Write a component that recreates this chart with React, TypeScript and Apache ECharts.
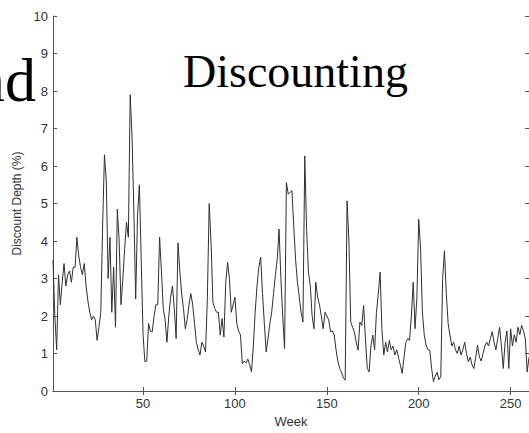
import React, { useEffect, useRef } from "react";
import * as echarts from "echarts";

// Discount depth (%) per week, weeks 1..260
const discountDepth: number[] = [
  3.5, 2.0, 1.1, 3.1, 2.3, 2.9, 3.4, 2.8, 3.1, 3.2,
  2.9, 3.3, 3.3, 4.1, 3.6, 3.3, 3.1, 3.4, 2.8, 2.4,
  2.1, 1.9, 2.0, 1.9, 1.35, 1.7, 2.1, 4.4, 6.3, 5.6,
  3.0, 4.1, 2.1, 3.3, 1.7, 4.85, 4.0, 2.3, 3.0, 3.8,
  4.5, 4.1, 7.9, 6.8, 4.8, 2.45, 4.7, 5.5, 3.5, 1.5,
  0.78, 0.8, 1.8, 1.6, 1.58, 2.0, 2.3, 2.3, 4.1, 3.2,
  2.2, 1.9, 1.3, 2.0, 2.5, 2.8, 2.2, 1.4, 3.95, 3.2,
  2.6, 2.2, 1.66, 1.9, 2.3, 2.6, 2.3, 1.8, 1.3, 1.1,
  0.96, 1.3, 1.2, 1.04, 2.5, 5.0, 3.96, 2.37, 2.2, 2.1,
  2.1, 1.49, 1.93, 1.44, 2.9, 3.43, 3.0, 2.1, 2.3, 2.5,
  1.8, 1.6, 1.5, 0.73, 0.8, 0.75, 0.85, 0.7, 0.51, 1.2,
  2.1, 2.8, 3.3, 3.57, 2.6, 1.8, 1.04, 1.4, 1.8, 2.1,
  2.6, 3.1, 3.5, 4.32, 3.0, 2.0, 1.13, 5.56, 5.25, 5.3,
  5.34, 4.4, 3.5, 2.9, 2.5, 2.1, 1.84, 6.27, 4.3, 3.17,
  2.8, 2.0, 1.66, 2.9, 2.5, 2.3, 2.0, 1.66, 2.1, 2.0,
  1.9, 1.58, 1.6, 1.5, 1.1, 0.8, 0.6, 0.5, 0.35, 0.29,
  5.07, 4.0, 1.84, 1.7, 1.58, 1.3, 1.09, 1.84, 1.75, 2.28,
  1.4, 0.6, 0.51, 1.2, 1.49, 1.1, 2.1, 2.6, 3.17, 1.6,
  0.96, 1.3, 1.04, 1.35, 1.1, 1.2, 0.96, 1.1, 0.9, 0.69,
  0.47, 0.9, 1.3, 1.4, 1.35, 2.0, 2.9, 1.66, 2.5, 4.58,
  3.79, 2.1, 1.5, 1.22, 1.1, 1.09, 0.6, 0.25, 0.4, 0.5,
  0.3, 0.38, 3.0, 3.74, 2.6, 1.8, 1.49, 1.2, 1.3, 1.1,
  1.0, 1.2, 0.96, 1.1, 1.3, 1.0, 0.78, 0.9, 0.7, 0.6,
  0.9, 1.22, 0.9, 0.8, 1.0, 1.2, 1.3, 1.2, 1.4, 1.58,
  1.3, 1.1, 1.4, 1.7, 1.2, 0.6, 1.3, 1.6, 0.6, 1.66,
  1.2, 1.5, 1.3, 1.7, 1.5, 1.75, 1.6, 1.4, 0.51, 0.9,
];

const firstWeek = 1;
const lastWeek = 260;
const weekTicks: number[] = [50, 100, 150, 200, 250];
const depthMin = 0;
const depthMax = 10;
const depthStep = 1;

const titleText = "Discounting";
const leftFragment = "nd";
const yName = "Discount Depth (%)";
const xName = "Week";

export default function App() {
  const ref = useRef<HTMLDivElement>(null);

  useEffect(() => {
    if (!ref.current) return;
    const chart = echarts.init(ref.current, null, { renderer: "svg" });
    const axisColor = "#555";
    const labelColor = "#333";
    const sans = "Liberation Sans, Arial, sans-serif";
    const serif = "Liberation Serif, Times New Roman, serif";

    const seriesData = discountDepth.map((v, i) => [firstWeek + i, v]);

    chart.setOption({
      animation: false,
      backgroundColor: "#fff",
      grid: { left: 53, top: 16, right: -1, bottom: 40, containLabel: false },
      xAxis: [
        {
          type: "value",
          min: firstWeek,
          max: lastWeek,
          position: "bottom",
          splitLine: { show: false },
          axisLine: { show: true, lineStyle: { color: axisColor, width: 1 } },
          axisTick: { show: true, inside: true, length: 4, customValues: weekTicks, lineStyle: { color: axisColor } },
          axisLabel: { show: true, customValues: weekTicks, color: labelColor, fontSize: 13, fontFamily: sans, margin: 6 },
          name: xName,
          nameLocation: "middle",
          nameGap: 24,
          nameTextStyle: { color: labelColor, fontSize: 13, fontFamily: sans },
        },
        {
          type: "value",
          min: firstWeek,
          max: lastWeek,
          position: "top",
          splitLine: { show: false },
          axisLine: { show: true, lineStyle: { color: axisColor, width: 1 } },
          axisTick: { show: true, inside: true, length: 4, customValues: weekTicks, lineStyle: { color: axisColor } },
          axisLabel: { show: false },
        },
      ],
      yAxis: [
        {
          type: "value",
          min: depthMin,
          max: depthMax,
          interval: depthStep,
          position: "left",
          splitLine: { show: false },
          axisLine: { show: true, lineStyle: { color: axisColor, width: 1 } },
          axisTick: { show: true, inside: true, length: 4, lineStyle: { color: axisColor } },
          axisLabel: { color: labelColor, fontSize: 13, fontFamily: sans, margin: 5 },
          name: yName,
          nameLocation: "middle",
          nameGap: 30,
          nameRotate: 90,
          nameTextStyle: { color: labelColor, fontSize: 12, fontFamily: sans },
        },
        {
          type: "value",
          min: depthMin,
          max: depthMax,
          interval: depthStep,
          position: "right",
          splitLine: { show: false },
          axisLine: { show: true, lineStyle: { color: axisColor, width: 1 } },
          axisTick: { show: true, inside: true, length: 4, lineStyle: { color: axisColor } },
          axisLabel: { show: false },
        },
      ],
      series: [
        {
          type: "line",
          data: seriesData,
          xAxisIndex: 0,
          yAxisIndex: 0,
          symbol: "none",
          lineStyle: { color: "#303030", width: 1 },
        },
      ],
      graphic: [
        {
          type: "text",
          left: 183,
          top: 48,
          z: 10,
          style: {
            text: titleText,
            font: `46px ${serif}`,
            fill: "#000",
          },
        },
        {
          type: "text",
          x: 36,
          y: 80,
          z: 10,
          style: {
            text: leftFragment,
            font: `62px ${serif}`,
            fill: "#000",
            align: "right",
            verticalAlign: "middle",
          },
        },
      ],
    });

    return () => chart.dispose();
  }, []);

  return (
    <div
      ref={ref}
      style={{ position: "absolute", left: 0, top: 0, width: 529, height: 433 }}
    />
  );
}
